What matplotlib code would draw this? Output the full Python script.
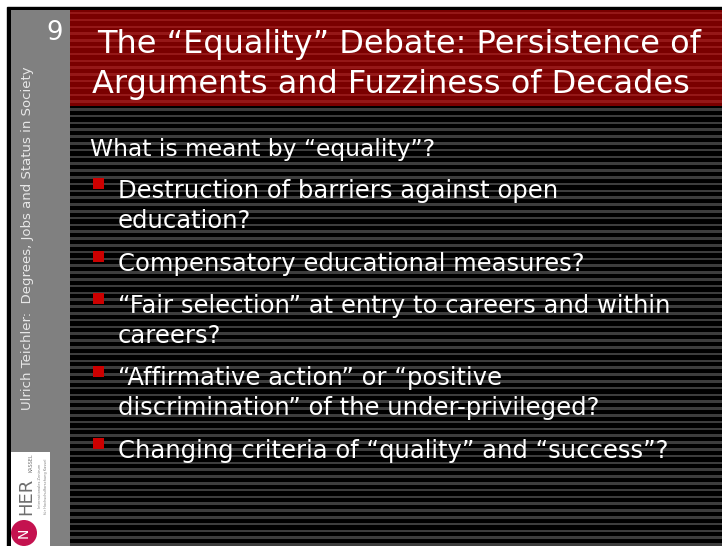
import matplotlib
matplotlib.use('Agg')
import matplotlib.pyplot as plt
from matplotlib.patches import Rectangle, Circle
import numpy as np

plt.rcParams['font.family'] = ['DejaVu Sans']

# Slide content
slide_number = '9'
sidebar_text = 'Ulrich Teichler:  Degrees, Jobs and Status in Society'
title_lines = ['The \u201cEquality\u201d Debate: Persistence of',
               'Arguments and Fuzziness of Decades']
intro_line = 'What is meant by \u201cequality\u201d?'
bullets = [
    ['Destruction of barriers against open', 'education?'],
    ['Compensatory educational measures?'],
    ['\u201cFair selection\u201d at entry to careers and within', 'careers?'],
    ['\u201cAffirmative action\u201d or \u201cpositive',
     'discrimination\u201d of the under-privileged?'],
    ['Changing criteria of \u201cquality\u201d and \u201csuccess\u201d?'],
]

W, H = 722, 546
fig = plt.figure(figsize=(W / 100, H / 100), dpi=100)
ax = fig.add_axes([0, 0, 1, 1])
ax.set_xlim(0, W)
ax.set_ylim(H, 0)
ax.axis('off')
fig.patch.set_facecolor('white')

# frame and striped background
ax.add_patch(Rectangle((7, 7), W, H, color='black', zorder=0))
ax.add_patch(Rectangle((70, 106), W - 70, H - 106, color='#000000', zorder=1))
for y in np.arange(108, H, 6.8):
    ax.add_patch(Rectangle((70, y), W - 70, 2.6, color='#3d3d3d', lw=0, zorder=1))

# title bar
ax.add_patch(Rectangle((70, 10), W - 70, 96, color='#7a0000', lw=0, zorder=2))
for y in np.arange(12, 104, 6.8):
    ax.add_patch(Rectangle((70, y), W - 70, 2.4, color='#951818', lw=0, zorder=2))

# sidebar
ax.add_patch(Rectangle((11, 10), 59, H, color='#808080', lw=0, zorder=2))
ax.text(63, 40, slide_number, color='white', fontsize=18.5, ha='right', va='baseline', zorder=5)
ax.text(28, 238, sidebar_text, color='#e8e8e8', fontsize=9.5, rotation=90,
        ha='center', va='center', zorder=5)

# logo
ax.add_patch(Rectangle((11, 452), 39, H - 452, color='white', lw=0, zorder=3))
logo_circle = Circle((24, 533), 13, color='#c4124f', lw=0, zorder=4)
ax.add_patch(logo_circle)
logo_circle.set_clip_path(Rectangle((11, 452), 39, H - 452, transform=ax.transData))
ax.text(24, 533, 'N', color='white', fontsize=10, rotation=90, ha='center', va='center', zorder=5)
ax.text(26.5, 496, 'HER', color='#6e6e6e', fontsize=13, rotation=90, ha='center', va='center', zorder=5)
ax.text(31, 463, 'KASSEL', color='#707070', fontsize=3.5, rotation=90, ha='center', va='center', zorder=5)
ax.text(43, 486, 'Internationales Zentrum\nfür Hochschulforschung Kassel', color='#808080',
        fontsize=2.6, rotation=90, ha='center', va='center', zorder=5, linespacing=1.6)

# title
title_x = [97, 92]
title_base = [53, 93]
for line, tx, ty in zip(title_lines, title_x, title_base):
    ax.text(tx, ty, line, color='white', fontsize=23, ha='left', va='baseline', zorder=5)

# body
ax.text(90, 156, intro_line, color='white', fontsize=16.8, ha='left', va='baseline', zorder=5)
line_gap = 30
block_gap = 42.5
y = 198
for item in bullets:
    ax.add_patch(Rectangle((92.5, y - 20), 11, 11, color='#cc0000', lw=0, zorder=5))
    for j, line in enumerate(item):
        ax.text(118, y + j * line_gap, line, color='white', fontsize=17.5,
                ha='left', va='baseline', zorder=5)
    y += (len(item) - 1) * line_gap + block_gap

fig.savefig('out.png', dpi=100, facecolor='white')
